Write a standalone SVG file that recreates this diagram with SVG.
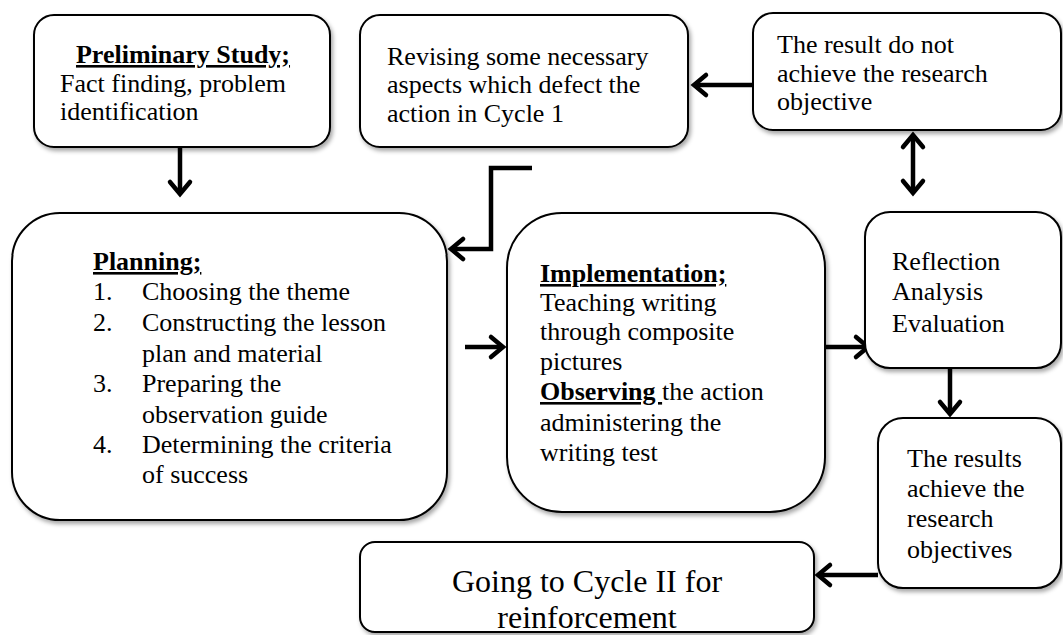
<svg xmlns="http://www.w3.org/2000/svg" width="1063" height="635" viewBox="0 0 1063 635">
<style>
.box{fill:#fff;stroke:#000;stroke-width:2;filter:url(#sh)}
.t{font-family:"Liberation Serif","Times New Roman",serif;font-size:26px;fill:#000}
.b{font-weight:bold;text-decoration:underline}
.big{font-size:32px}
.arr{fill:none;stroke:#000;stroke-width:4.5}
</style>
<defs>
<filter id="sh" x="-10%" y="-10%" width="130%" height="130%">
<feDropShadow dx="2" dy="3" stdDeviation="2" flood-color="#000" flood-opacity="0.35"/>
</filter>
<marker id="ah" viewBox="-16 -14 20 28" refX="0" refY="0" markerWidth="20" markerHeight="28" markerUnits="userSpaceOnUse" orient="auto-start-reverse">
<path d="M-12,-10 L0,0 L-12,10" fill="none" stroke="#000" stroke-width="4.5" stroke-linecap="round" stroke-linejoin="miter"/>
</marker>
</defs>
<rect width="1063" height="635" fill="#fff"/>

<g id="connectors">
<line class="arr" x1="180" y1="148" x2="180" y2="194" marker-end="url(#ah)"/>
<line class="arr" x1="753" y1="85" x2="694" y2="85" marker-end="url(#ah)"/>
<line class="arr" x1="913" y1="135" x2="913" y2="193" marker-start="url(#ah)" marker-end="url(#ah)"/>
<path class="arr" d="M532 168 H491 V249 H451" marker-end="url(#ah)"/>
<line class="arr" x1="465" y1="347" x2="503" y2="347" marker-end="url(#ah)"/>
<line class="arr" x1="826" y1="347" x2="868" y2="347" marker-end="url(#ah)"/>
<line class="arr" x1="950" y1="369" x2="950" y2="414" marker-end="url(#ah)"/>
<line class="arr" x1="878" y1="575" x2="818" y2="575" marker-end="url(#ah)"/>
</g>

<g id="preliminary">
<rect class="box" x="34" y="15" width="296" height="132" rx="20"/>
<text class="t" x="183" y="63" text-anchor="middle"><tspan class="b">Preliminary Study;</tspan></text>
<text class="t" x="60" y="92">Fact finding, problem</text>
<text class="t" x="60" y="120">identification</text>
</g>

<g id="revising">
<rect class="box" x="360" y="15" width="328" height="132" rx="20"/>
<text class="t" x="387" y="65">Revising some necessary</text>
<text class="t" x="387" y="93">aspects which defect the</text>
<text class="t" x="387" y="122">action in Cycle 1</text>
</g>

<g id="notachieved">
<rect class="box" x="753" y="13" width="308" height="117" rx="20"/>
<text class="t" x="777" y="53">The result do not</text>
<text class="t" x="777" y="82">achieve the research</text>
<text class="t" x="777" y="110">objective</text>
</g>

<g id="planning">
<rect class="box" x="12" y="213" width="435" height="307" rx="48"/>
<text class="t" x="93" y="270"><tspan class="b">Planning;</tspan></text>
<text class="t" x="93" y="300">1.</text><text class="t" x="142" y="300">Choosing the theme</text>
<text class="t" x="93" y="331">2.</text><text class="t" x="142" y="331">Constructing the lesson</text>
<text class="t" x="142" y="362">plan and material</text>
<text class="t" x="93" y="392">3.</text><text class="t" x="142" y="392">Preparing the</text>
<text class="t" x="142" y="423">observation guide</text>
<text class="t" x="93" y="453">4.</text><text class="t" x="142" y="453">Determining the criteria</text>
<text class="t" x="142" y="483">of success</text>
</g>

<g id="implementation">
<rect class="box" x="507" y="213" width="318" height="299" rx="55"/>
<text class="t" x="540" y="282"><tspan class="b">Implementation;</tspan></text>
<text class="t" x="540" y="311">Teaching writing</text>
<text class="t" x="540" y="340">through composite</text>
<text class="t" x="540" y="370">pictures</text>
<text class="t" x="540" y="400"><tspan class="b">Observing </tspan>the action</text>
<text class="t" x="540" y="431">administering the</text>
<text class="t" x="540" y="461">writing test</text>
</g>

<g id="reflection">
<rect class="box" x="865" y="212" width="196" height="156" rx="25"/>
<text class="t" x="892" y="270">Reflection</text>
<text class="t" x="892" y="300">Analysis</text>
<text class="t" x="892" y="332">Evaluation</text>
</g>

<g id="achieved">
<rect class="box" x="878" y="418" width="183" height="170" rx="25"/>
<text class="t" x="907" y="467">The results</text>
<text class="t" x="907" y="497">achieve the</text>
<text class="t" x="907" y="527">research</text>
<text class="t" x="907" y="558">objectives</text>
</g>

<g id="cycle2">
<rect class="box" x="360" y="542" width="454" height="90" rx="15"/>
<text class="t big" x="587" y="592" text-anchor="middle">Going to Cycle II for</text>
<text class="t big" x="587" y="628" text-anchor="middle">reinforcement</text>
</g>
</svg>
